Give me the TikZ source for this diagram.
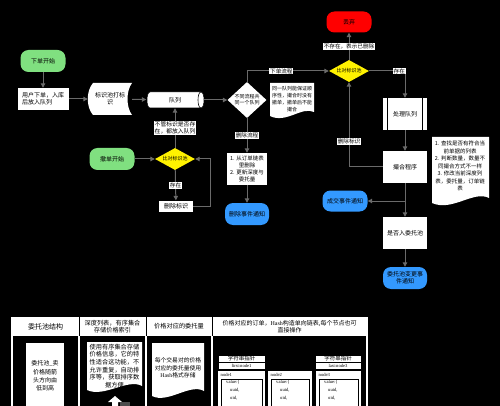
\documentclass[tikz,border=0pt]{standalone}
\usepackage{fontspec}
\setmainfont{Noto Sans CJK SC}
\newfontfamily\serif{Liberation Serif}
\usetikzlibrary{shapes.geometric,arrows.meta}
\definecolor{lgreen}{HTML}{80E080}
\definecolor{fblue}{HTML}{3399FF}
\definecolor{lgray}{HTML}{6A6A6A}
\newcommand{\mynodeframe}[4]{%
  \fill[white] (#1,371) rectangle (#2,412);
  \node[anchor=west, inner sep=0pt, font=\serif\fontsize{4.6}{5}\selectfont] (#4lab) at ({#1+2.5},375) {#3};
  \draw[black, line width=0.5pt] ({#1+3},379) rectangle ({#2-3},414);
  \node[anchor=north west, align=left, inner sep=0pt, font=\serif\fontsize{4.6}{7.8}\selectfont] (#4val) at ({#1+8},380.5) {value:\{\\\hspace{4pt}uuid,\\\hspace{4pt}oid,};
}
\begin{document}
\begin{tikzpicture}[x=1pt,y=-1pt, font=\fontsize{6}{7.2}\selectfont,
  ln/.style={draw=lgray, line width=1pt},
  arr/.style={ln, -{Triangle[length=4.5pt,width=4.5pt]}},
  lab/.style={fill=white, text=black, inner sep=0.8pt, font=\fontsize{5.6}{6.6}\selectfont, align=center},
  startn/.style={fill=lgreen, rounded corners=8pt, minimum width=45pt, minimum height=22pt, inner sep=0pt, align=center},
  bluen/.style={fill=fblue, rounded corners=8pt, minimum width=45pt, minimum height=21pt, inner sep=0pt, align=center},
  wbox/.style={fill=white, inner sep=0pt, align=center},
  ydiam/.style={diamond, fill=yellow, inner sep=0pt, minimum width=40pt, minimum height=22pt, aspect=1.8, font=\fontsize{5}{6}\selectfont},
  hdr/.style={inner sep=0pt, align=center, text=black},
]
\useasboundingbox (0,0) rectangle (500,406);
\fill[black] (0,0) rectangle (500,406);
\clip (0,0) rectangle (500,406);

% ---------- order flow ----------
\node[startn] (s1) at (43,61) {下单开始};
\node[wbox, minimum width=51pt, minimum height=22pt, align=left] (r1) at (43,99) {用户下单，入库\\后放入队列};

\fill[white] (93,83) -- (132,83) .. controls (126,91) and (126,107) .. (132,115) -- (93,115) .. controls (86,107) and (86,91) .. (93,83) -- cycle;
\node[inner sep=0pt, minimum width=44pt, minimum height=32pt, align=center] (sd) at (110,99) {标识池打标\\识};

\filldraw[fill=white, draw=black, line width=0.5pt] (150,92) -- (201,92) .. controls (205,92) and (205,108) .. (201,108) -- (150,108) .. controls (146,108) and (146,92) .. (150,92) -- cycle;
\draw[black, line width=0.6pt] (201,92) .. controls (197,92) and (197,108) .. (201,108);
\node[inner sep=0pt, minimum width=57pt, minimum height=16pt] (q) at (175,100) {队列};

\node[diamond, fill=white, inner sep=0pt, minimum width=39pt, minimum height=36pt, aspect=1.1, font=\fontsize{5}{6}\selectfont, align=center] (d1) at (247,100) {不同流程共\\同一个队列};

\fill[white] (270,83) -- (314,83) -- (314,112) .. controls (302,106) and (286,124) .. (270,116) -- cycle;
\node[inner sep=0pt, align=center, font=\fontsize{5}{7}\selectfont] (na) at (292,99) {同一队列能保证顺\\序性，撮合时没有\\撤单，撤单后不能\\撮合};

\node[ydiam] (y1) at (349,71) {比对标识池};
\node[fill=red, rounded corners=8pt, minimum width=45pt, minimum height=21pt, inner sep=0pt] (red) at (349,22) {丢弃};

\node[wbox, minimum width=44pt, minimum height=32pt] (p1) at (405,114) {处理队列};
\draw[black, line width=1.2pt] ([xshift=5pt]p1.north west) -- ([xshift=5pt]p1.south west)
  ([xshift=-5pt]p1.north east) -- ([xshift=-5pt]p1.south east);
\node[wbox, minimum width=44pt, minimum height=32pt] (m1) at (405,167) {撮合程序};
\node[bluen] (ok) at (345,201) {成交事件通知};
\node[wbox, minimum width=44pt, minimum height=32pt] (pool) at (405,233) {是否入委托池};
\node[bluen, minimum width=44pt, minimum height=22pt] (pn) at (405,278) {委托池变更事\\件通知};

\fill[white] (432,137) -- (489,137) -- (489,198) .. controls (474,190) and (452,212) .. (432,203) -- cycle;
\node[inner sep=0pt, align=center, font=\fontsize{5.5}{7.5}\selectfont] (nb) at (460,166) {1. 查找是否有符合当\\前单据的列表\\2. 判断数量，数量不\\同撮合方式不一样\\3. 修改当前深度列\\表，委托量，订单链\\表};

\node[wbox, minimum width=40pt, minimum height=32pt, font=\fontsize{5.5}{6.8}\selectfont] (db) at (247,169) {1. 从订单链表\\里删除\\2. 更新深度与\\委托量};
\node[bluen, minimum width=44pt, minimum height=22pt] (dn) at (247,214) {删除事件通知};

% ---------- cancel flow ----------
\node[startn] (s2) at (112,159) {撤单开始};
\node[ydiam] (y2) at (175,159) {比对标识池};
\node[wbox, minimum width=34pt, minimum height=11pt] (df) at (176,206) {删除标识};

% ---------- connectors ----------
\draw[arr] (s1) -- (r1);
\draw[arr] (r1) -- (sd);
\draw[arr] (sd) -- (q);
\draw[arr] (q) -- (d1);
\draw[arr] (d1.north) |- node[lab, pos=0.71] {下单流程} (y1.west);
\draw[arr] (y1) -- node[lab] {不存在，表示已删除} (red);
\draw[arr] (y1.east) -| node[lab, pos=0.42] {存在} (p1.north);
\draw[arr] (p1) -- (m1);
\draw[arr] (m1) -- (pool);
\coordinate (br) at (m1.south |- ok.east);
\draw[arr] (br) -- (ok.east);
\draw[arr] (pool) -- (pn);
\draw[arr] (m1.west) -| node[lab, pos=0.65] {删除标识} (y1.south);
\draw[arr] (d1.south) -- node[lab] {删除流程} (db.north);
\draw[arr] (db) -- (dn);
\draw[arr] (s2) -- (y2);
\draw[arr] (y2) -- node[lab, font=\fontsize{5.8}{6.6}\selectfont] {不管标识是否存\\在，都放入队列} (q);
\draw[arr] (y2) -- node[lab] {存在} (df);
\draw[arr] (df.east) -- ++(17,0) |- (y2.east);

% ---------- table ----------
\fill[white] (12,317) rectangle (367,336);
\draw[black, line width=1pt] (79,317) -- (79,336) (146,317) -- (146,336) (212,317) -- (212,336);
\draw[white, line width=1.3pt] (12,317) -- (12,412) (79,336) -- (79,412) (146,336) -- (146,412) (212,336) -- (212,412) (367,317) -- (367,412);
\node[hdr, font=\fontsize{7}{8}\selectfont] (h1) at (45.5,326.5) {委托池结构};
\node[hdr, font=\fontsize{6.2}{7.4}\selectfont] (h2) at (112.5,326.5) {深度列表，有序集合\\存储价格索引};
\node[hdr, font=\fontsize{6.2}{7.4}\selectfont] (h3) at (179,326.5) {价格对应的委托量};
\node[hdr, font=\fontsize{6}{7.4}\selectfont] (h4) at (289.5,326.5) {价格对应的订单，{\serif Hash}构造单向链表,每个节点也可\\直接操作};

% column 1
\fill[white] (26,343) rectangle (64,412);
\node[hdr, font=\fontsize{6}{8.3}\selectfont] (c1) at (45,376) {委托池\_卖\\价格随箭\\头方向由\\低到高};

% column 2
\fill[white] (87,342) -- (142,342) -- (142,386) .. controls (128,378) and (104,398) .. (87,390) -- cycle;
\node[hdr, font=\fontsize{6.2}{7.6}\selectfont] (c2) at (114.5,366) {使用有序集合存储\\价格信息，它的特\\性适合这功能，不\\允许重复，自动排\\序等，获取排序数\\据方便};
\fill[white] (115,396) -- (122,402) -- (118,402) -- (118,412) -- (112,412) -- (112,402) -- (108,402) -- cycle;
\fill[black!70] (120,402) rectangle (130,412);

% column 3
\fill[white] (152,343) -- (204,343) -- (204,391) .. controls (190,383) and (168,404) .. (152,396) -- cycle;
\node[hdr, font=\fontsize{5.8}{7.5}\selectfont] (c3) at (178,368) {每个交易对的价格\\对应的委托量使用\\{\serif Hash}格式存储};

% column 4
\filldraw[fill=white, draw=black, line width=0.4pt] (218,355) rectangle (265,369);
\draw[black, line width=0.4pt] (218,362.5) -- (265,362.5);
\node[hdr, font=\fontsize{5.5}{6}\selectfont] (p1a) at (241.5,358.8) {字符串指针};
\node[hdr, font=\serif\fontsize{4.6}{5}\selectfont] (p1b) at (241.5,365.8) {first:node1};
\filldraw[fill=white, draw=black, line width=0.4pt] (315,355) rectangle (361,369);
\draw[black, line width=0.4pt] (315,362.5) -- (361,362.5);
\node[hdr, font=\fontsize{5.5}{6}\selectfont] (p3a) at (338,358.8) {字符串指针};
\node[hdr, font=\serif\fontsize{4.6}{5}\selectfont] (p3b) at (338,365.8) {last:node3};
\mynodeframe{218}{265}{node1}{na1}
\mynodeframe{268}{312}{node2}{na2}
\mynodeframe{316}{361}{node3}{na3}
\end{tikzpicture}
\end{document}
